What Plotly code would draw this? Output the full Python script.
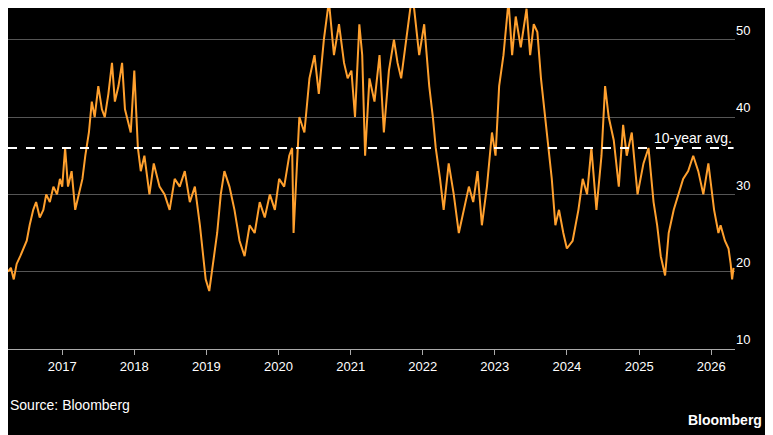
import plotly.graph_objects as go
import pandas as pd

# (decimal year, value) readings per year
pts_2016 = [(2016.25,20),(2016.29,20.5),(2016.33,19),(2016.37,21),(2016.42,22),(2016.47,23),(2016.51,24),(2016.55,26),
            (2016.6,28),(2016.64,29),(2016.69,27),(2016.74,28),(2016.78,30),(2016.83,29),(2016.88,31),(2016.93,30),(2016.97,32)]
pts_2017 = [(2017.0,31),(2017.04,36),(2017.08,31),(2017.13,33),(2017.18,28),(2017.23,30),(2017.28,32),(2017.32,35),
            (2017.37,38),(2017.41,42),(2017.45,40),(2017.5,44),(2017.55,41),(2017.59,40),(2017.64,43),(2017.69,47),
            (2017.73,42),(2017.78,44),(2017.83,47),(2017.87,41),(2017.9,40),(2017.95,38)]
pts_2018 = [(2018.0,46),(2018.05,36),(2018.09,33),(2018.14,35),(2018.21,30),(2018.27,34),(2018.35,31),(2018.42,30),
            (2018.49,28),(2018.56,32),(2018.63,31),(2018.7,33),(2018.77,29),(2018.84,31),(2018.91,26),(2018.95,22),(2018.99,19)]
pts_2019 = [(2019.04,17.5),(2019.09,21),(2019.15,25),(2019.2,30),(2019.25,33),(2019.32,31),(2019.39,28),(2019.46,24),
            (2019.53,22),(2019.6,26),(2019.67,25),(2019.74,29),(2019.81,27),(2019.88,30),(2019.95,28)]
pts_2020 = [(2020.01,32),(2020.08,31),(2020.15,35),(2020.19,36),(2020.21,25),(2020.25,32),(2020.29,40),(2020.36,38),
            (2020.43,45),(2020.5,48),(2020.56,43),(2020.63,50),(2020.7,55),(2020.77,48),(2020.84,52),(2020.91,47),(2020.96,45)]
pts_2021 = [(2021.01,46),(2021.06,40),(2021.12,52),(2021.16,48),(2021.2,35),(2021.26,45),(2021.33,42),(2021.4,48),
            (2021.46,38),(2021.53,46),(2021.6,50),(2021.65,47),(2021.7,45),(2021.77,50),(2021.84,55),(2021.88,54),(2021.95,48)]
pts_2022 = [(2022.02,52),(2022.09,44),(2022.14,40),(2022.18,36),(2022.24,32),(2022.29,28),(2022.36,34),(2022.43,30),
            (2022.5,25),(2022.57,28),(2022.64,31),(2022.7,29),(2022.76,33),(2022.82,26),(2022.89,31),(2022.96,38)]
pts_2023 = [(2023.01,35),(2023.06,44),(2023.12,48),(2023.19,55),(2023.24,48),(2023.29,53),(2023.36,49),(2023.44,54),
            (2023.49,48),(2023.54,52),(2023.59,51),(2023.64,45),(2023.72,38),(2023.79,32),(2023.84,26),(2023.89,28),(2023.95,25)]
pts_2024 = [(2024.0,23),(2024.08,24),(2024.16,28),(2024.22,32),(2024.28,30),(2024.34,36),(2024.41,28),(2024.48,35),
            (2024.53,44),(2024.58,40),(2024.65,37),(2024.72,31),(2024.78,39),(2024.83,35),(2024.9,38),(2024.98,30)]
pts_2025 = [(2025.06,34),(2025.13,36),(2025.2,29),(2025.25,26),(2025.3,22),(2025.36,19.5),(2025.41,25),(2025.48,28),
            (2025.54,30),(2025.61,32),(2025.68,33),(2025.75,35),(2025.82,33),(2025.89,30),(2025.96,34)]
pts_2026 = [(2026.04,28),(2026.1,25),(2026.13,26),(2026.19,24),(2026.24,23),(2026.27,21),(2026.29,19),(2026.31,20.5)]

avg_10y = 36.0
year_ticks = list(range(2017, 2027))
y_ticks = [10, 20, 30, 40, 50]

pts = pts_2016 + pts_2017 + pts_2018 + pts_2019 + pts_2020 + pts_2021 + pts_2022 + pts_2023 + pts_2024 + pts_2025 + pts_2026

def to_date(d):
    y = int(d)
    start = pd.Timestamp(year=y, month=1, day=1)
    return start + pd.Timedelta(days=(d - y) * 365.25)

dates = [to_date(d) for d, _ in pts]
vals = [v for _, v in pts]

fig = go.Figure()
fig.add_trace(go.Scatter(x=dates, y=vals, mode="lines", line=dict(color="#FFA02E", width=2), showlegend=False))
fig.add_trace(go.Scatter(x=[dates[0], dates[-1]], y=[avg_10y, avg_10y], mode="lines",
                         line=dict(color="white", width=2, dash="dash"), showlegend=False))
fig.add_annotation(x=dates[-1], y=avg_10y, text="10-year avg.", showarrow=False, xanchor="right", yanchor="bottom",
                   font=dict(color="white", size=14, family="Arial, Liberation Sans"))

fig.update_layout(
    width=765, height=427, paper_bgcolor="black", plot_bgcolor="black",
    margin=dict(l=0, r=38, t=0, b=86),
    font=dict(family="Arial, Liberation Sans", color="white", size=13),
    xaxis=dict(range=[to_date(2016.25), to_date(2026.33)], tickvals=[pd.Timestamp(year=y, month=1, day=1) for y in year_ticks],
               ticktext=[str(y) for y in year_ticks], showgrid=False, ticks="outside", ticklen=5, tickcolor="#aaa",
               showline=True, linecolor="#aaa", tickfont=dict(size=13, color="white")),
    yaxis=dict(side="right", range=[10, 54.1], tickvals=y_ticks, gridcolor="#555", zeroline=False,
               ticklabelposition="outside top", tickfont=dict(size=13, color="white"), showline=False),
)
fig.add_annotation(xref="paper", yref="paper", x=0, y=-0.164, xanchor="left", yanchor="middle", showarrow=False,
                   text="Source: Bloomberg", font=dict(size=14, color="white"))
fig.add_annotation(xref="paper", yref="paper", x=1.04, y=-0.208, xanchor="right", yanchor="middle", showarrow=False,
                   text="<b>Bloomberg</b>", font=dict(size=14, color="white"))
fig.write_html("out.html")
